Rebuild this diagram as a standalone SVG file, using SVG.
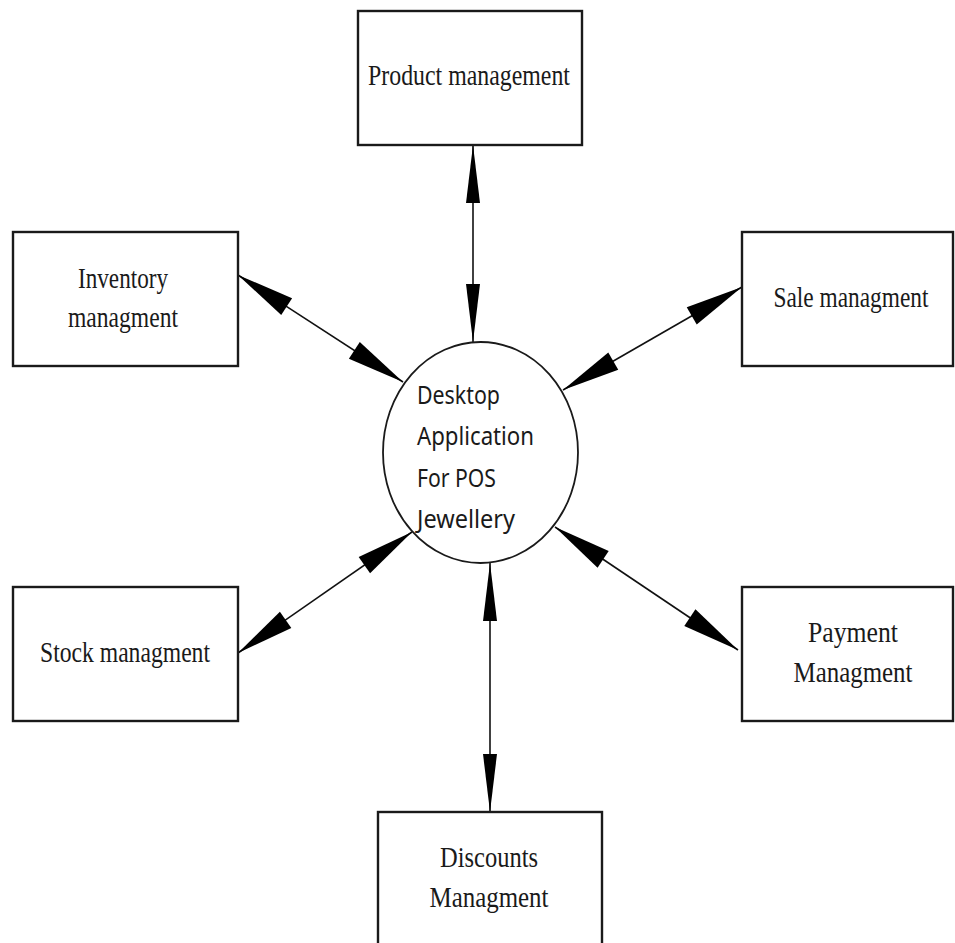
<svg xmlns="http://www.w3.org/2000/svg" width="955" height="943" viewBox="0 0 955 943">
  <style>
    .box { fill: #ffffff; stroke: #1a1a1a; stroke-width: 2.4; }
    .hub { fill: #ffffff; stroke: #1a1a1a; stroke-width: 1.8; }
    .lbl { font-family: "Liberation Serif", "Times New Roman", serif; font-size: 29px; fill: #1a1a1a; text-anchor: middle; }
    .hubtxt { font-family: "Noto Sans", "Open Sans", sans-serif; font-size: 26px; fill: #1a1a1a; }
    .conn { stroke: #111111; stroke-width: 1.6; fill: none; }
  </style>
  <defs>
    <marker id="ahv" markerUnits="userSpaceOnUse" markerWidth="58" markerHeight="14" viewBox="0 -7 58 14" refX="58" refY="0" orient="auto-start-reverse" overflow="visible">
      <path d="M0,-7 L58,0 L0,7 Z" fill="#000000"/>
    </marker>
    <marker id="ahd" markerUnits="userSpaceOnUse" markerWidth="58" markerHeight="20" viewBox="0 -10 58 20" refX="58" refY="0" orient="auto-start-reverse" overflow="visible">
      <path d="M0,-10 L58,0 L0,10 Z" fill="#000000"/>
    </marker>
  </defs>
  <rect width="955" height="943" fill="#ffffff"/>

  <g id="connectors">
    <line class="conn" x1="473" y1="145" x2="473" y2="342" marker-start="url(#ahv)" marker-end="url(#ahv)"/>
    <line class="conn" x1="490" y1="563" x2="490" y2="812" marker-start="url(#ahv)" marker-end="url(#ahv)"/>
    <line class="conn" x1="238" y1="275" x2="403" y2="382" marker-start="url(#ahd)" marker-end="url(#ahd)"/>
    <line class="conn" x1="742" y1="287" x2="563" y2="390" marker-start="url(#ahd)" marker-end="url(#ahd)"/>
    <line class="conn" x1="238" y1="653" x2="412" y2="532" marker-start="url(#ahd)" marker-end="url(#ahd)"/>
    <line class="conn" x1="555" y1="527" x2="738" y2="650" marker-start="url(#ahd)" marker-end="url(#ahd)"/>
  </g>

  <g id="hub">
    <ellipse class="hub" cx="480.5" cy="452.5" rx="97.5" ry="110.5"/>
    <text class="hubtxt" x="417" y="404" textLength="83" lengthAdjust="spacingAndGlyphs">Desktop</text>
    <text class="hubtxt" x="417" y="445" textLength="117" lengthAdjust="spacingAndGlyphs">Application</text>
    <text class="hubtxt" x="417" y="487" textLength="79" lengthAdjust="spacingAndGlyphs">For POS</text>
    <text class="hubtxt" x="417" y="528" textLength="98" lengthAdjust="spacingAndGlyphs">Jewellery</text>
  </g>

  <g id="product">
    <rect class="box" x="358" y="11" width="224" height="134"/>
    <text class="lbl" x="469" y="85" textLength="202" lengthAdjust="spacingAndGlyphs">Product management</text>
  </g>

  <g id="inventory">
    <rect class="box" x="13" y="232" width="225" height="134"/>
    <text class="lbl" x="123" y="288" textLength="90" lengthAdjust="spacingAndGlyphs">Inventory</text>
    <text class="lbl" x="123" y="327" textLength="110" lengthAdjust="spacingAndGlyphs">managment</text>
  </g>

  <g id="sale">
    <rect class="box" x="742" y="232" width="211" height="134"/>
    <text class="lbl" x="851" y="307" font-size="27" textLength="155" lengthAdjust="spacingAndGlyphs">Sale managment</text>
  </g>

  <g id="stock">
    <rect class="box" x="13" y="587" width="225" height="134"/>
    <text class="lbl" x="125" y="662" textLength="170" lengthAdjust="spacingAndGlyphs">Stock managment</text>
  </g>

  <g id="payment">
    <rect class="box" x="742" y="587" width="211" height="134"/>
    <text class="lbl" x="853" y="642" textLength="90" lengthAdjust="spacingAndGlyphs">Payment</text>
    <text class="lbl" x="853" y="682" textLength="119" lengthAdjust="spacingAndGlyphs">Managment</text>
  </g>

  <g id="discounts">
    <rect class="box" x="378" y="812" width="224" height="150"/>
    <text class="lbl" x="489" y="867" textLength="98" lengthAdjust="spacingAndGlyphs">Discounts</text>
    <text class="lbl" x="489" y="907" textLength="119" lengthAdjust="spacingAndGlyphs">Managment</text>
  </g>
</svg>
